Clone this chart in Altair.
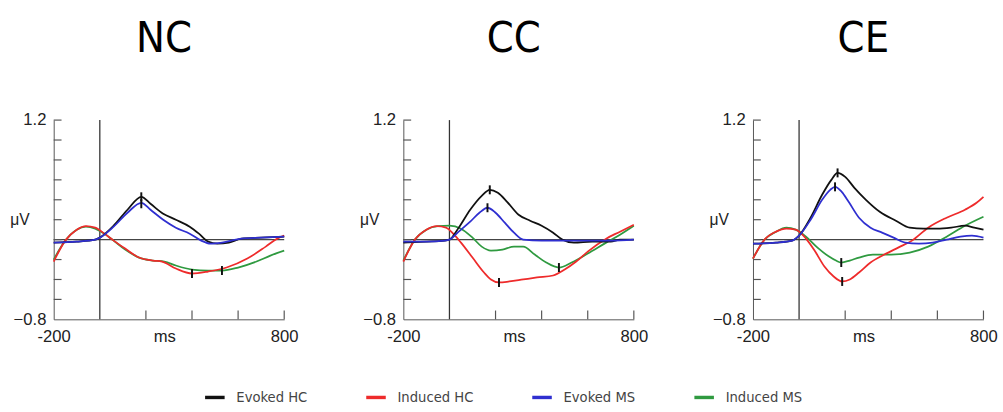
import altair as alt
import pandas as pd

PANELS = ["NC", "CC", "CE"]
SERIES = ["Evoked HC", "Induced HC", "Evoked MS", "Induced MS"]
COLORS = ["#111111", "#ee2b2b", "#2f2fd0", "#2f9a40"]
DRAW_ORDER = ["Induced MS", "Induced HC", "Evoked HC", "Evoked MS"]

# (ms, µV) pairs
NC_EVOKED_HC = [(-200, -0.03), (-100, -0.02), (-20, 0.0), (0, 0.02), (60, 0.14), (120, 0.30), (180, 0.43),
                (220, 0.36), (275, 0.26), (330, 0.20), (390, 0.13), (430, 0.06), (470, -0.02), (510, -0.04),
                (560, -0.03), (615, 0.01), (700, 0.02), (800, 0.03)]
NC_EVOKED_MS = [(-200, -0.03), (-100, -0.02), (-20, 0.0), (0, 0.02), (60, 0.13), (120, 0.27), (180, 0.37),
                (220, 0.30), (275, 0.20), (330, 0.12), (390, 0.06), (440, -0.01), (480, -0.04), (530, -0.03),
                (615, 0.01), (700, 0.02), (800, 0.03)]
NC_INDUCED_HC = [(-200, -0.22), (-150, -0.01), (-100, 0.10), (-60, 0.135), (-20, 0.12), (20, 0.06), (60, -0.01),
                 (110, -0.09), (170, -0.18), (230, -0.21), (270, -0.22), (330, -0.29), (400, -0.34), (470, -0.32),
                 (550, -0.28), (640, -0.19), (720, -0.07), (770, 0.01), (800, 0.04)]
NC_INDUCED_MS = [(-200, -0.20), (-150, -0.01), (-100, 0.10), (-60, 0.13), (-20, 0.11), (20, 0.06), (60, -0.01),
                 (110, -0.10), (170, -0.18), (230, -0.21), (280, -0.22), (330, -0.26), (400, -0.30), (470, -0.31),
                 (530, -0.31), (600, -0.28), (680, -0.22), (740, -0.16), (800, -0.11)]

CC_EVOKED_HC = [(-200, -0.03), (-100, -0.02), (-20, -0.01), (0, 0.0), (40, 0.12), (90, 0.30), (140, 0.44),
                (175, 0.50), (210, 0.47), (250, 0.38), (300, 0.25), (350, 0.19), (400, 0.14), (450, 0.07),
                (490, 0.0), (540, -0.03), (620, -0.02), (700, -0.02), (740, 0.0), (800, 0.0)]
CC_EVOKED_MS = [(-200, -0.02), (-100, -0.02), (-20, -0.01), (0, 0.0), (40, 0.08), (90, 0.18), (130, 0.27),
                (165, 0.32), (200, 0.27), (240, 0.17), (280, 0.07), (320, 0.0), (400, -0.01), (500, -0.01),
                (600, -0.01), (700, -0.01), (800, 0.0)]
CC_INDUCED_HC = [(-200, -0.22), (-150, 0.0), (-100, 0.10), (-55, 0.135), (-15, 0.12), (20, 0.05), (50, -0.03),
                 (100, -0.18), (150, -0.33), (180, -0.40), (215, -0.43), (260, -0.42), (320, -0.40), (380, -0.38),
                 (450, -0.36), (500, -0.30), (550, -0.22), (600, -0.12), (680, 0.01), (740, 0.08), (800, 0.15)]
CC_INDUCED_MS = [(-200, -0.21), (-150, 0.0), (-100, 0.10), (-50, 0.135), (0, 0.14), (50, 0.11), (100, 0.02),
                 (140, -0.07), (180, -0.11), (230, -0.10), (280, -0.07), (320, -0.07), (370, -0.15), (420, -0.23),
                 (475, -0.28), (530, -0.23), (600, -0.14), (680, -0.03), (740, 0.05), (800, 0.14)]

CE_EVOKED_HC = [(-200, -0.04), (-100, -0.03), (-30, -0.01), (0, 0.04), (50, 0.22), (100, 0.45), (140, 0.60),
                (167, 0.67), (200, 0.63), (240, 0.52), (290, 0.40), (350, 0.28), (420, 0.19), (480, 0.12),
                (540, 0.11), (600, 0.11), (660, 0.12), (720, 0.14), (760, 0.12), (800, 0.10)]
CE_EVOKED_MS = [(-200, -0.04), (-100, -0.03), (-30, -0.01), (0, 0.04), (50, 0.20), (100, 0.40), (135, 0.50),
                (156, 0.53), (185, 0.48), (215, 0.38), (260, 0.22), (310, 0.12), (360, 0.07), (410, 0.02),
                (460, -0.03), (520, -0.04), (580, -0.03), (640, 0.0), (700, 0.03), (750, 0.04), (800, 0.02)]
CE_INDUCED_HC = [(-200, -0.19), (-150, 0.0), (-100, 0.08), (-55, 0.11), (-15, 0.10), (30, 0.01), (70, -0.12),
                 (110, -0.27), (150, -0.37), (187, -0.42), (220, -0.40), (260, -0.33), (310, -0.23), (370, -0.15),
                 (430, -0.08), (490, -0.01), (560, 0.12), (640, 0.22), (720, 0.30), (770, 0.37), (800, 0.43)]
CE_INDUCED_MS = [(-200, -0.19), (-150, 0.0), (-100, 0.08), (-55, 0.12), (-15, 0.10), (30, 0.03), (80, -0.08),
                 (130, -0.17), (160, -0.21), (183, -0.23), (220, -0.21), (260, -0.18), (320, -0.15), (400, -0.15),
                 (480, -0.13), (560, -0.07), (640, 0.03), (720, 0.14), (800, 0.23)]

# peak markers (ms, µV) per series
NC_PEAKS = {"Evoked HC": (180, 0.43), "Evoked MS": (180, 0.36), "Induced HC": (400, -0.34), "Induced MS": (530, -0.31)}
CC_PEAKS = {"Evoked HC": (175, 0.50), "Evoked MS": (165, 0.32), "Induced HC": (215, -0.43), "Induced MS": (475, -0.28)}
CE_PEAKS = {"Evoked HC": (167, 0.67), "Evoked MS": (156, 0.53), "Induced HC": (187, -0.42), "Induced MS": (183, -0.23)}

Y_TICKS = [-0.6, -0.4, -0.2, 0.0, 0.2, 0.4, 0.6, 0.8, 1.0, 1.2]
X_TICKS = [200, 400, 600, 800]
X_LABELS = [-200, 280, 800]
Y_LABELS = [-0.8, 1.2]

PANEL_DATA = {
    "NC": ({"Evoked HC": NC_EVOKED_HC, "Evoked MS": NC_EVOKED_MS, "Induced HC": NC_INDUCED_HC, "Induced MS": NC_INDUCED_MS}, NC_PEAKS),
    "CC": ({"Evoked HC": CC_EVOKED_HC, "Evoked MS": CC_EVOKED_MS, "Induced HC": CC_INDUCED_HC, "Induced MS": CC_INDUCED_MS}, CC_PEAKS),
    "CE": ({"Evoked HC": CE_EVOKED_HC, "Evoked MS": CE_EVOKED_MS, "Induced HC": CE_INDUCED_HC, "Induced MS": CE_INDUCED_MS}, CE_PEAKS),
}

W, H = 236, 204
NARROW = "DejaVu Sans Condensed, Liberation Sans Narrow, Arial Narrow, sans-serif"
SANS = "Liberation Sans, Arial, sans-serif"

X_SCALE = alt.Scale(domain=[-200, 800], nice=False, zero=False)
Y_SCALE = alt.Scale(domain=[-0.8, 1.2], nice=False, zero=False)
X_AXIS = alt.Axis(values=X_LABELS, ticks=False, grid=False, title=None, domainColor="#555",
                  labelExpr="datum.value == 280 ? 'ms' : datum.value", labelFontSize=17, labelFont=SANS,
                  labelColor="#222", labelPadding=10, labelFlush=False)
Y_AXIS = alt.Axis(values=Y_LABELS, format=".1f", ticks=False, grid=False, title="μV", titleAngle=0,
                  titleAlign="left", titleBaseline="middle", titleX=-45, titleY=H * 0.5, titleFontSize=16,
                  titleFont=SANS, titleFontWeight="normal", titleColor="#222", domainColor="#555",
                  labelFontSize=17, labelFont=SANS, labelColor="#222", labelPadding=8, labelFlush=False)


def xenc(field):
    return alt.X(field, type="quantitative", scale=X_SCALE, axis=X_AXIS)


def yenc(field):
    return alt.Y(field, type="quantitative", scale=Y_SCALE, axis=Y_AXIS)


COLOR = alt.Color("series:N", scale=alt.Scale(domain=SERIES, range=COLORS),
                  legend=alt.Legend(title=None, orient="none", direction="horizontal", legendX=153, legendY=272,
                                    symbolType="stroke", symbolStrokeWidth=3.5, symbolSize=400, labelOffset=10,
                                    labelFontSize=15, labelFont=NARROW, labelColor="#444",
                                    columnPadding=53, columns=4))


def panel(name):
    series_lists, peaks = PANEL_DATA[name]
    layers = []
    zero_h = alt.Chart(pd.DataFrame({"uv": [0.0]})).mark_rule(color="#444", strokeWidth=1.2).encode(y=yenc("uv"))
    zero_v = alt.Chart(pd.DataFrame({"ms": [0]})).mark_rule(color="#333", strokeWidth=1.3).encode(x=xenc("ms"))
    yt = alt.Chart(pd.DataFrame({"uv": Y_TICKS})).mark_rule(color="#555", strokeWidth=1.2).encode(
        y=yenc("uv"), x=alt.value(0), x2=alt.value(8))
    xt = alt.Chart(pd.DataFrame({"ms": X_TICKS})).mark_rule(color="#555", strokeWidth=1.2).encode(
        x=xenc("ms"), y=alt.value(H), y2=alt.value(H - 9))
    layers += [zero_h, zero_v, yt, xt]
    for s in DRAW_ORDER:
        pts = series_lists[s]
        df = pd.DataFrame({"ms": [p[0] for p in pts], "uv": [p[1] for p in pts],
                           "series": s, "i": list(range(len(pts)))})
        layers.append(alt.Chart(df).mark_line(strokeWidth=1.8, interpolate="monotone").encode(
            x=xenc("ms"), y=yenc("uv"), color=COLOR, order="i:Q"))
    pk = pd.DataFrame({"series": list(peaks.keys()), "ms": [v[0] for v in peaks.values()],
                       "uv": [v[1] for v in peaks.values()]})
    layers.append(alt.Chart(pk).transform_calculate(lo="datum.uv - 0.045", hi="datum.uv + 0.045")
                  .mark_rule(color="#111", strokeWidth=2).encode(x=xenc("ms"), y=yenc("lo"), y2="hi:Q"))
    return alt.layer(*layers).properties(
        width=W, height=H,
        title=alt.TitleParams(name, fontSize=44, font=NARROW, fontWeight="normal", color="#000",
                              offset=52, anchor="middle", dx=-5))


chart = alt.hconcat(*[panel(p) for p in PANELS], spacing=62).properties(
    padding={"left": 10, "top": 13, "right": 5, "bottom": 5}
).configure_view(strokeWidth=0)

chart.save("out.html", embed_options={"renderer": "svg", "actions": False})
